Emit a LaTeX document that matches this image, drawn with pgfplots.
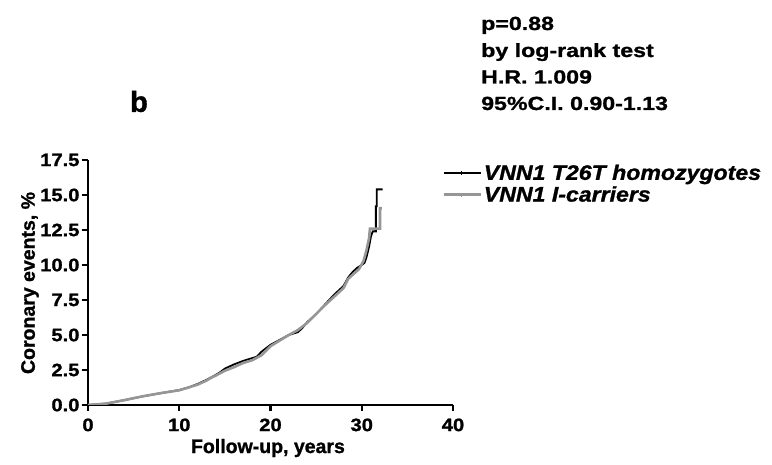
\documentclass[border=0pt]{standalone}
\usepackage{fontspec}
\setmainfont{Liberation Sans}[BoldFeatures={FakeBold=1.2}]
\newfontfamily\annfont{Liberation Sans}[FakeStretch=1.22, BoldFeatures={FakeBold=1.2}]
\newfontfamily\tickfont{Liberation Sans}[FakeStretch=1.12, BoldFeatures={FakeBold=1.2}]
\newfontfamily\legfont{Liberation Sans}[FakeStretch=1.1, BoldItalicFeatures={FakeBold=1.2}]
\usepackage{pgfplots}
\pgfplotsset{compat=1.18}

\definecolor{kmgrey}{RGB}{150,150,150}

\begin{document}
\begin{tikzpicture}[x=1pt,y=1pt]
% canvas: reference pixels mapped to pt, axis origin at pixel (88,405)
\path[use as bounding box] (-88,-60) rectangle (684,405);

\begin{axis}[
  at={(0,0)}, anchor=south west,
  scale only axis, width=365pt, height=245pt,
  xmin=0, xmax=40, ymin=0, ymax=17.5,
  axis x line=bottom, axis y line=left,
  axis line style={-, line width=2.4pt},
  every tick/.style={black, line width=2.4pt},
  tick align=outside, major tick length=6pt,
  xtick={0,10,20,30,40},
  ytick={0,2.5,5,7.5,10,12.5,15,17.5},
  yticklabel style={/pgf/number format/fixed, /pgf/number format/fixed zerofill,
    /pgf/number format/precision=1, xshift=1pt},
  /pgf/number format/assume math mode=true,
  tick label style={font=\tickfont\fontsize{18}{18}\selectfont\bfseries},
  xticklabel style={yshift=-4pt},
  xlabel={Follow-up, years},
  ylabel={Coronary events, \%},
  label style={font=\fontsize{19.5}{19.5}\selectfont\bfseries},
  xlabel style={at={(axis description cs:0.493,-0.1755)}, anchor=center},
  ylabel style={at={(axis description cs:-0.159,0.498)}, anchor=center},
  legend style={draw=none, fill=none, at={(axis description cs:0.97,0.99)}, anchor=north west,
    font=\legfont\fontsize{21}{21}\selectfont\bfseries\itshape, row sep=1pt, inner sep=0pt},
  legend cell align=left,
  legend image code/.code={
    \draw[#1] (0pt,0pt) -- (37pt,0pt);
    \draw[#1, line width=1pt] (18pt,-2pt) -- (18pt,2pt);
  },
]
\addplot[black, line width=1.8pt] coordinates {
(0,0) (2,0.1) (4,0.35) (6,0.62) (8,0.85) (10,1.07) (11,1.25) (12,1.5) (13,1.8)
(14,2.15) (14.5,2.35) (15,2.6) (16,2.9) (17,3.15) (18,3.35) (18.5,3.45) (19,3.8)
(20,4.3) (21,4.65) (22,5.0) (23,5.2) (23.5,5.5) (24,5.9) (25,6.5) (26,7.2) (27,7.9)
(28,8.5) (28.5,9.1) (29,9.5) (29.5,9.8) (30,10.0) (30.3,10.15) (30.5,10.5) (30.8,11.3)
(31.0,12.0) (31.2,12.4) (31.55,12.4) (31.55,14.2) (31.65,14.2) (31.65,15.4) (32.3,15.4)
};
\addlegendentry{VNN1 T26T homozygotes}
\addplot[kmgrey, line width=2.6pt] coordinates {
(0,0) (2,0.1) (4,0.35) (6,0.62) (8,0.85) (10,1.05) (12,1.45) (13,1.75) (13.5,1.95)
(14,2.1) (15,2.45) (16,2.7) (17,3.0) (18,3.2) (19,3.55) (20,4.2) (21,4.6) (22,5.0)
(23,5.35) (24,5.85) (25,6.5) (26,7.15) (27,7.75) (28,8.35) (28.5,9.0) (29,9.3)
(29.7,9.7) (30.2,10.3) (30.5,11.0) (30.8,11.9) (30.9,12.6) (32.0,12.6) (32.0,14.05) (32.2,14.05)
};
\addlegendentry{VNN1 I-carriers}
\end{axis}

\node[anchor=center, font=\fontsize{29}{29}\selectfont\bfseries] at (51,303.5) {b};
\begin{scope}[every node/.style={anchor=base west, inner sep=0pt,
    font=\annfont\fontsize{19}{19}\selectfont\bfseries}]
\node at (393,375) {p=0.88};
\node at (393,348) {by log-rank test};
\node at (393,321.5) {H.R. 1.009};
\node at (393,295) {95\%C.I. 0.90-1.13};
\end{scope}
\end{tikzpicture}
\end{document}
